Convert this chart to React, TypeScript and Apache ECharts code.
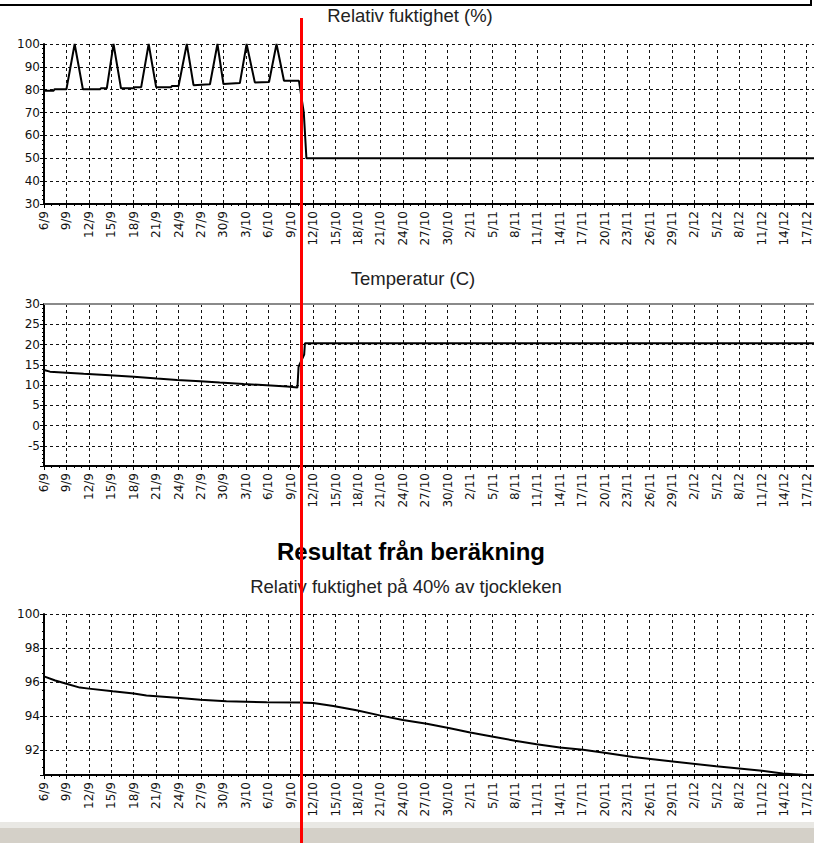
import React, { useEffect, useRef } from 'react';
import * as echarts from 'echarts';

// Tick labels of the shared date axis (one every 3 days, day 0 = 6/9)
const dateLabels = [
  '6/9', '9/9', '12/9', '15/9', '18/9', '21/9', '24/9', '27/9', '30/9', '3/10', '6/10', '9/10',
  '12/10', '15/10', '18/10', '21/10', '24/10', '27/10', '30/10', '2/11', '5/11', '8/11', '11/11',
  '14/11', '17/11', '20/11', '23/11', '26/11', '29/11', '2/12', '5/12', '8/12', '11/12', '14/12', '17/12',
];

// Relativ fuktighet (%) – input
const rhDays = [0, 1.3, 1.4, 3.0, 4.1, 5.2, 7.5, 7.6, 8.4, 9.3, 10.3, 12.0, 12.1, 13.0, 14.0, 15.0, 17.0, 17.1, 18.0, 19.1, 20.0, 22.2, 23.2, 24.0, 26.2, 27.1, 28.2, 30.1, 31.1, 32.1, 34.1, 34.75, 35.1, 105];
const rhValues = [79.6, 79.6, 80.2, 80.2, 100, 80.2, 80.2, 80.6, 80.6, 100, 80.6, 80.6, 81.1, 81.1, 100, 81.1, 81.1, 81.6, 81.6, 100, 82.0, 82.4, 100, 82.5, 82.9, 100, 83.2, 83.4, 100, 83.9, 83.9, 70, 50, 50];

// Temperatur (C) – input
const tempDays = [0, 0.8, 3.0, 5.3, 8.8, 12.0, 15.1, 17.8, 20.9, 23.5, 26.7, 29.8, 32.5, 33.9, 34.05, 34.8, 34.9, 105];
const tempValues = [13.7, 13.3, 13.05, 12.75, 12.4, 12.05, 11.6, 11.25, 10.9, 10.6, 10.25, 9.95, 9.6, 9.4, 14.5, 17.5, 20.3, 20.3];

// Relativ fuktighet på 40% av tjockleken – result
const calcDays = [0, 1.5, 3, 4.8, 6, 9.2, 12, 13.7, 18.2, 20.9, 24.4, 29.8, 34.2, 36, 38.7, 41.8, 44.9, 48, 51.2, 54.3, 57, 60.1, 63, 65.9, 69, 72.1, 75.2, 78.8, 84.1, 89.9, 95.7, 98.8, 101.5, 103.5];
const calcValues = [96.34, 96.1, 95.91, 95.68, 95.62, 95.46, 95.33, 95.22, 95.07, 94.97, 94.88, 94.82, 94.81, 94.77, 94.6, 94.35, 94.05, 93.78, 93.56, 93.3, 93.05, 92.8, 92.56, 92.35, 92.16, 92.03, 91.84, 91.6, 91.34, 91.06, 90.82, 90.64, 90.57, 90.55];

const titleTop = 'Relativ fuktighet (%)';
const titleMid = 'Temperatur (C)';
const titleResult = 'Resultat från beräkning';
const titleBottom = 'Relativ fuktighet på 40% av tjockleken';

const X_MAX = 105;
const AXIS_FONT = 'DejaVu Sans';
const TITLE_FONT = 'Liberation Sans, Arial, sans-serif';

const zip = (a: number[], b: number[]) => a.map((d, i) => [d, b[i]]);

function makeXAxis(gridIndex: number) {
  return {
    type: 'value',
    gridIndex,
    min: 0,
    max: X_MAX,
    interval: 3,
    axisLine: { show: true, onZero: false, lineStyle: { color: '#000', width: 2 } },
    axisTick: { show: true, length: 4, lineStyle: { color: '#000', width: 1 } },
    minorTick: { show: true, splitNumber: 3, length: 2, lineStyle: { color: '#000', width: 1 } },
    axisLabel: {
      rotate: 90,
      margin: 7,
      fontFamily: AXIS_FONT,
      fontSize: 12,
      color: '#111',
      showMinLabel: true,
      formatter: (v: number) => {
        const i = Math.round(v / 3);
        return Math.abs(v - i * 3) < 1e-6 && i < dateLabels.length ? dateLabels[i] : '';
      },
    },
    splitLine: { show: true, lineStyle: { color: '#111', width: 1, type: [3, 3] } },
  };
}

function makeYAxis(gridIndex: number, extra: any) {
  return {
    type: 'value',
    gridIndex,
    axisLine: { show: true, onZero: false, lineStyle: { color: '#000', width: 2 } },
    axisTick: { show: true, length: 4, lineStyle: { color: '#000', width: 1 } },
    minorTick: { show: true, splitNumber: 5, length: 2, lineStyle: { color: '#000', width: 1 } },
    splitLine: { show: true, lineStyle: { color: '#111', width: 1, type: [3, 3] } },
    ...extra,
    axisLabel: {
      margin: 4,
      fontFamily: AXIS_FONT,
      fontSize: 12,
      color: '#111',
      ...(extra.axisLabel || {}),
    },
  };
}

const lineSeries = (i: number, data: number[][], extra: any = {}) => ({
  type: 'line',
  xAxisIndex: i,
  yAxisIndex: i,
  data,
  showSymbol: false,
  symbol: 'none',
  lineStyle: { color: '#000', width: 2 },
  ...extra,
});

const titleText = (text: string, x: number, y: number, size: number, bold = false, color = '#222') => ({
  type: 'text',
  x,
  y,
  z: 50,
  style: {
    text,
    fontFamily: TITLE_FONT,
    fontSize: size,
    fontWeight: bold ? 'bold' : 'normal',
    fill: color,
    align: 'center',
    verticalAlign: 'middle',
  },
});

const option: any = {
  animation: false,
  backgroundColor: '#fff',
  grid: [
    { left: 44, top: 44, width: 785, height: 160 },
    { left: 44, top: 304, width: 785, height: 162 },
    { left: 44, top: 614, width: 785, height: 161 },
  ],
  xAxis: [makeXAxis(0), makeXAxis(1), makeXAxis(2)],
  yAxis: [
    makeYAxis(0, { min: 30, max: 100, interval: 10 }),
    makeYAxis(1, {
      min: -10,
      max: 30,
      interval: 5,
      axisLabel: { formatter: (v: number) => (v === -10 ? '' : String(v)) },
    }),
    makeYAxis(2, {
      min: 90.55,
      max: 100,
      splitNumber: 5,
      minorTick: { show: true, splitNumber: 4, length: 2, lineStyle: { color: '#000', width: 1 } },
      axisLabel: {
        showMinLabel: false,
        formatter: (v: number) => (Math.abs(v - Math.round(v)) < 1e-6 ? String(Math.round(v)) : ''),
      },
    }),
  ],
  series: [
    lineSeries(0, zip(rhDays, rhValues)),
    lineSeries(1, zip(tempDays, tempValues), {
      markLine: {
        silent: true,
        symbol: 'none',
        label: { show: false },
        lineStyle: { color: '#8a8a8a', type: 'solid', width: 2 },
        data: [{ yAxis: 30 }],
      },
    }),
    lineSeries(2, zip(calcDays, calcValues)),
  ],
  graphic: [
    {
      type: 'polyline',
      z: 50,
      shape: { points: [[0, 5], [811, 5], [811, 0]] },
      style: { stroke: '#000', lineWidth: 2, fill: null },
    },
    titleText(titleTop, 410, 15.5, 18.5),
    titleText(titleMid, 413, 278, 18.5),
    titleText(titleResult, 411, 551, 24, true, '#000'),
    titleText(titleBottom, 406, 586, 18.5),
    { type: 'rect', z: 40, shape: { x: 0, y: 822, width: 830, height: 6 }, style: { fill: '#e9e8e4' } },
    { type: 'rect', z: 40, shape: { x: 0, y: 828, width: 830, height: 15 }, style: { fill: '#d4d0c8' } },
    { type: 'rect', z: 100, shape: { x: 300, y: 18, width: 3, height: 825 }, style: { fill: '#ff0000' } },
  ],
};

export default function App() {
  const ref = useRef<HTMLDivElement>(null);
  useEffect(() => {
    if (!ref.current) return;
    const chart = echarts.init(ref.current, null, { renderer: 'svg' });
    chart.setOption(option);
    return () => chart.dispose();
  }, []);
  return (
    <div
      style={{
        position: 'fixed',
        left: 0,
        top: 0,
        width: 814,
        height: 843,
        overflow: 'hidden',
        background: '#fff',
      }}
    >
      <div ref={ref} style={{ width: 830, height: 843 }} />
    </div>
  );
}
